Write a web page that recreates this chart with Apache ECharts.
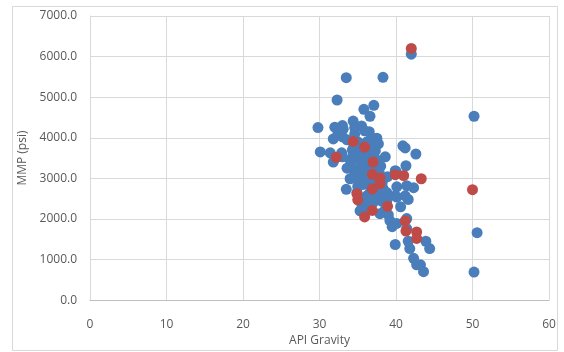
<!DOCTYPE html>
<html>
<head>
<meta charset="utf-8">
<script src="https://cdn.jsdelivr.net/npm/echarts@6/dist/echarts.min.js"></script>
<style>
  html, body { margin: 0; padding: 0; background: #fff; }
  #chart { width: 564px; height: 352px; }
</style>
</head>
<body>
<div id="chart"></div>
<script>
// Axis settings
const xTicks = { min: 0, max: 60, interval: 10 };
const yTicks = { min: 0, max: 7000, interval: 1000 };
const xTitle = 'API Gravity';
const yTitle = 'MMP (psi)';

// Measured MMP values, [API gravity, MMP psi]
const blueSeries = [
  [29.8,4250],[30.1,3650],[32.3,4930],[33.5,5480],[38.3,5490],[42.0,6060],
  [35.8,4700],[37.1,4800],[36.6,4530],[34.4,4410],[35.5,4290],[35.9,4170],
  [33.1,4210],[32.0,4260],[32.4,4090],[34.6,4090],[33.0,4020],[31.8,3970],
  [37.5,3990],[35.0,3900],[37.3,3680],[38.6,3530],[34.4,3600],[35.3,3530],
  [33.0,3530],[31.4,3630],[32.9,3630],[35.3,3640],[34.9,3480],[31.8,3400],
  [34.0,3280],[35.5,3280],[34.2,3300],[34.6,3110],[34.0,2990],[33.5,2730],
  [35.9,2940],[38.9,3040],[39.9,3190],[40.9,3800],[41.2,3750],[42.6,3600],
  [41.3,3310],[40.0,3170],[40.1,2790],[41.4,2820],[42.3,2770],[39.9,2570],
  [41.2,2570],[40.1,2540],[41.6,2480],[36.2,2570],[37.6,2570],[35.5,2380],
  [38.2,2430],[36.3,2210],[37.9,2130],[35.5,2190],[39.2,1960],[40.1,1890],
  [39.5,1810],[41.4,1760],[41.4,2010],[35.3,2200],[39.9,1370],[41.6,1450],
  [41.8,1270],[43.9,1450],[44.4,1270],[42.3,1030],[42.7,870],[43.2,870],
  [43.6,700],[50.2,4530],[50.6,1660],[50.2,690],
  [36.0,3750],[36.8,3550],[36.4,3350],[37.0,3200],[36.0,3050],[35.0,3150],
  [36.5,2850],[35.0,2800],[37.3,2700],[38.2,2900],[38.8,2650],[34.5,3800],
  [33.6,3950],[36.8,4000],[37.7,3850],[36.2,3900],[34.0,3450],[38.0,3300],
  [37.5,3450],[34.9,2650],[36.0,2400],[37.0,2400],[38.5,2200],[39.0,2100],
  [34.6,4250],[33.0,4300],[36.5,4150],[35.6,3450],[36.3,3150],[35.7,2850],
  [37.0,2950],[37.8,3150],[38.3,2750],[36.6,2650],[34.3,3700],[35.9,3600],
  [33.6,3250],[34.8,3000],[38.8,2450],[40.6,2300],[36.8,3800]
];

// Second data set, drawn on top
const redSeries = [
  [42.0,6200],[50.0,2720],[34.4,3910],[35.9,3770],[32.2,3520],[37.0,3400],
  [36.9,3100],[37.9,3010],[37.9,2870],[39.9,3090],[41.0,3070],[43.3,2990],
  [36.9,2740],[34.9,2620],[35.0,2470],[38.9,2310],[36.9,2210],[35.9,2050],
  [41.2,1950],[41.3,1700],[42.7,1680],[42.7,1520]
];

const labelFont = { color: '#595959', fontSize: 12, fontFamily: 'Open Sans, Liberation Sans, sans-serif' };
const gridLine = { lineStyle: { color: '#d9d9d9', width: 1 } };

const chart = echarts.init(document.getElementById('chart'), null, { renderer: 'canvas' });
chart.setOption({
  animation: false,
  backgroundColor: '#fff',
  graphic: [{
    type: 'rect', silent: true, z: -10,
    shape: { x: 12.5, y: 6.5, width: 545, height: 344 },
    style: { fill: 'none', stroke: '#d9d9d9', lineWidth: 1 }
  }],
  grid: { left: 90, right: 15, top: 16, bottom: 50, containLabel: false },
  xAxis: {
    type: 'value',
    min: xTicks.min, max: xTicks.max, interval: xTicks.interval,
    name: xTitle, nameLocation: 'middle', nameGap: 31,
    nameTextStyle: labelFont,
    axisLabel: Object.assign({ margin: 18 }, labelFont),
    axisLine: { show: true, lineStyle: { color: '#bfbfbf' } },
    axisTick: { show: false },
    splitLine: Object.assign({ show: true }, gridLine)
  },
  yAxis: {
    type: 'value',
    min: yTicks.min, max: yTicks.max, interval: yTicks.interval,
    name: yTitle, nameLocation: 'middle', nameGap: 55,
    nameTextStyle: labelFont,
    axisLabel: Object.assign({ margin: 13, formatter: v => v.toFixed(1) }, labelFont),
    axisLine: { show: true, lineStyle: { color: '#d9d9d9' } },
    axisTick: { show: false },
    splitLine: Object.assign({ show: true }, gridLine)
  },
  series: [
    {
      type: 'scatter', data: blueSeries, symbolSize: 11,
      itemStyle: { color: '#4a7ebb', opacity: 1 }
    },
    {
      type: 'scatter', data: redSeries, symbolSize: 11,
      itemStyle: { color: '#be4b48', opacity: 1 }
    }
  ]
});
</script>
</body>
</html>
